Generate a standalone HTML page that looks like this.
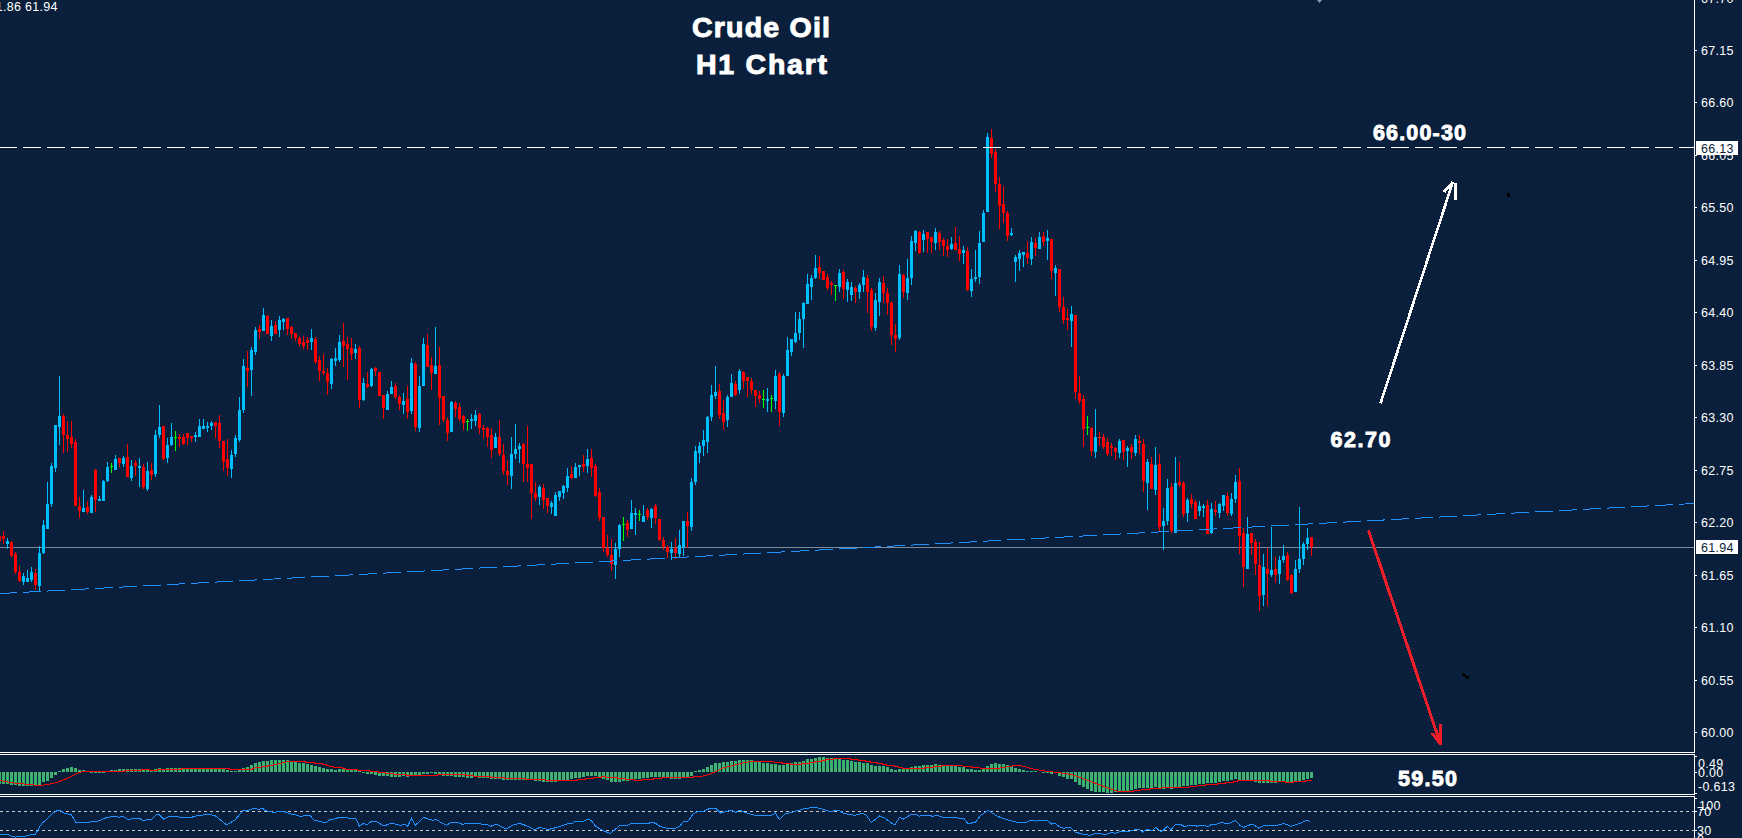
<!DOCTYPE html><html><head><meta charset="utf-8"><style>
html,body{margin:0;padding:0;background:#091f3b;width:1742px;height:838px;overflow:hidden}
svg{display:block;position:absolute;left:0;top:0}
.t{font-family:"Liberation Sans", sans-serif;}
.a{font-family:"Liberation Sans", sans-serif;font-size:12.5px;letter-spacing:0.3px}
</style></head><body>
<svg width="1742" height="838" viewBox="0 0 1742 838">
<rect width="1742" height="838" fill="#091f3b"/>
<g shape-rendering="crispEdges">

<rect x="0" y="547" width="1694" height="1" fill="#7c8b9c"/>
<path fill="#00bfff" d="M7 538h1v11h-1zM6 541h3v3h-3zM23 573h1v12h-1zM22 576h3v6h-3zM27 570h1v12h-1zM26 578h3v4h-3zM31 567h1v15h-1zM30 572h3v8h-3zM39 546h1v45h-1zM38 553h3v33h-3zM43 520h1v34h-1zM42 525h3v28h-3zM47 482h1v47h-1zM46 504h3v25h-3zM51 463h1v44h-1zM50 466h3v38h-3zM55 425h1v47h-1zM54 425h3v43h-3zM59 376h1v69h-1zM58 416h3v11h-3zM83 490h1v22h-1zM82 508h3v4h-3zM91 495h1v18h-1zM90 497h3v16h-3zM99 496h1v5h-1zM98 499h3v2h-3zM103 480h1v21h-1zM102 481h3v20h-3zM107 462h1v20h-1zM106 467h3v14h-3zM115 455h1v15h-1zM114 459h3v11h-3zM123 456h1v11h-1zM122 458h3v6h-3zM131 460h1v21h-1zM130 466h3v12h-3zM139 458h1v29h-1zM138 466h3v2h-3zM147 462h1v29h-1zM146 471h3v18h-3zM155 430h1v47h-1zM154 435h3v39h-3zM159 405h1v33h-1zM158 427h3v8h-3zM167 438h1v25h-1zM166 445h3v13h-3zM171 423h1v23h-1zM170 437h3v8h-3zM195 432h1v10h-1zM194 435h3v2h-3zM199 419h1v18h-1zM198 426h3v11h-3zM203 419h1v10h-1zM202 426h3v3h-3zM207 422h1v10h-1zM206 426h3v2h-3zM211 421h1v9h-1zM210 423h3v3h-3zM231 450h1v28h-1zM230 455h3v14h-3zM235 435h1v22h-1zM234 438h3v16h-3zM239 397h1v45h-1zM238 410h3v30h-3zM243 359h1v54h-1zM242 366h3v44h-3zM251 347h1v49h-1zM250 350h3v20h-3zM255 327h1v28h-1zM254 330h3v22h-3zM263 308h1v23h-1zM262 315h3v16h-3zM271 320h1v21h-1zM270 326h3v10h-3zM279 316h1v21h-1zM278 320h3v10h-3zM283 318h1v12h-1zM282 319h3v3h-3zM311 329h1v21h-1zM310 338h3v4h-3zM331 358h1v31h-1zM330 359h3v25h-3zM335 348h1v18h-1zM334 358h3v3h-3zM339 335h1v27h-1zM338 342h3v18h-3zM355 344h1v15h-1zM354 349h3v4h-3zM363 378h1v23h-1zM362 383h3v17h-3zM371 368h1v19h-1zM370 369h3v17h-3zM387 391h1v19h-1zM386 394h3v16h-3zM391 381h1v13h-1zM390 387h3v7h-3zM403 393h1v21h-1zM402 401h3v4h-3zM411 358h1v56h-1zM410 363h3v48h-3zM419 376h1v56h-1zM418 386h3v42h-3zM423 338h1v48h-1zM422 344h3v42h-3zM435 327h1v47h-1zM434 366h3v8h-3zM451 401h1v31h-1zM450 402h3v30h-3zM471 414h1v15h-1zM470 419h3v2h-3zM475 410h1v16h-1zM474 415h3v6h-3zM495 433h1v15h-1zM494 437h3v11h-3zM511 437h1v52h-1zM510 454h3v22h-3zM515 424h1v35h-1zM514 449h3v5h-3zM519 443h1v20h-1zM518 446h3v3h-3zM539 485h1v20h-1zM538 487h3v10h-3zM551 501h1v13h-1zM550 503h3v4h-3zM555 492h1v24h-1zM554 495h3v21h-3zM559 491h1v10h-1zM558 491h3v6h-3zM563 485h1v14h-1zM562 486h3v7h-3zM567 468h1v24h-1zM566 476h3v12h-3zM575 463h1v15h-1zM574 467h3v11h-3zM579 465h1v11h-1zM578 465h3v2h-3zM587 449h1v24h-1zM586 459h3v7h-3zM615 543h1v36h-1zM614 549h3v16h-3zM619 524h1v33h-1zM618 525h3v24h-3zM631 500h1v29h-1zM630 513h3v16h-3zM635 508h1v27h-1zM634 513h3v2h-3zM643 505h1v17h-1zM642 516h3v6h-3zM651 508h1v20h-1zM650 509h3v9h-3zM671 542h1v18h-1zM670 549h3v4h-3zM679 530h1v27h-1zM678 545h3v9h-3zM683 521h1v35h-1zM682 521h3v26h-3zM691 478h1v53h-1zM690 482h3v45h-3zM695 446h1v39h-1zM694 451h3v31h-3zM699 442h1v21h-1zM698 446h3v7h-3zM703 430h1v26h-1zM702 440h3v6h-3zM707 416h1v37h-1zM706 417h3v25h-3zM711 385h1v36h-1zM710 395h3v22h-3zM715 366h1v33h-1zM714 392h3v4h-3zM727 395h1v32h-1zM726 397h3v23h-3zM731 374h1v23h-1zM730 383h3v14h-3zM739 369h1v25h-1zM738 371h3v19h-3zM767 388h1v24h-1zM766 399h3v2h-3zM775 370h1v39h-1zM774 376h3v25h-3zM783 374h1v43h-1zM782 376h3v37h-3zM787 337h1v39h-1zM786 350h3v26h-3zM791 339h1v17h-1zM790 339h3v13h-3zM795 312h1v31h-1zM794 333h3v9h-3zM799 312h1v28h-1zM798 319h3v14h-3zM803 302h1v46h-1zM802 303h3v16h-3zM807 274h1v30h-1zM806 284h3v20h-3zM811 275h1v25h-1zM810 278h3v9h-3zM815 255h1v24h-1zM814 268h3v10h-3zM839 269h1v23h-1zM838 273h3v14h-3zM847 279h1v23h-1zM846 282h3v8h-3zM851 282h1v19h-1zM850 287h3v8h-3zM859 283h1v16h-1zM858 285h3v7h-3zM863 270h1v22h-1zM862 277h3v8h-3zM875 293h1v38h-1zM874 300h3v28h-3zM879 278h1v38h-1zM878 282h3v20h-3zM899 265h1v75h-1zM898 274h3v64h-3zM907 259h1v41h-1zM906 278h3v15h-3zM911 236h1v49h-1zM910 241h3v37h-3zM915 230h1v21h-1zM914 231h3v12h-3zM923 230h1v22h-1zM922 234h3v6h-3zM935 228h1v22h-1zM934 232h3v11h-3zM951 237h1v13h-1zM950 244h3v5h-3zM963 246h1v18h-1zM962 250h3v3h-3zM971 269h1v28h-1zM970 279h3v12h-3zM975 250h1v32h-1zM974 277h3v2h-3zM979 231h1v53h-1zM978 243h3v34h-3zM983 210h1v32h-1zM982 213h3v29h-3zM987 133h1v79h-1zM986 137h3v75h-3zM1011 228h1v8h-1zM1010 233h3v2h-3zM1015 255h1v27h-1zM1014 257h3v5h-3zM1019 250h1v21h-1zM1018 253h3v6h-3zM1023 252h1v15h-1zM1022 252h3v3h-3zM1031 237h1v28h-1zM1030 242h3v17h-3zM1039 232h1v17h-1zM1038 237h3v12h-3zM1047 230h1v30h-1zM1046 238h3v3h-3zM1055 265h1v31h-1zM1054 268h3v5h-3zM1071 306h1v41h-1zM1070 314h3v7h-3zM1095 409h1v49h-1zM1094 437h3v15h-3zM1119 439h1v19h-1zM1118 441h3v12h-3zM1127 446h1v21h-1zM1126 448h3v3h-3zM1135 435h1v21h-1zM1134 439h3v14h-3zM1147 459h1v51h-1zM1146 462h3v21h-3zM1155 447h1v48h-1zM1154 465h3v25h-3zM1163 508h1v42h-1zM1162 521h3v5h-3zM1167 479h1v46h-1zM1166 488h3v33h-3zM1175 457h1v76h-1zM1174 483h3v50h-3zM1187 498h1v24h-1zM1186 500h3v13h-3zM1199 501h1v15h-1zM1198 506h3v5h-3zM1203 504h1v13h-1zM1202 506h3v2h-3zM1211 503h1v31h-1zM1210 509h3v24h-3zM1219 503h1v15h-1zM1218 504h3v9h-3zM1223 495h1v16h-1zM1222 495h3v11h-3zM1231 493h1v23h-1zM1230 499h3v15h-3zM1235 475h1v28h-1zM1234 482h3v17h-3zM1247 517h1v52h-1zM1246 534h3v35h-3zM1263 554h1v52h-1zM1262 567h3v28h-3zM1271 527h1v50h-1zM1270 570h3v5h-3zM1279 556h1v28h-1zM1278 560h3v14h-3zM1283 545h1v18h-1zM1282 556h3v4h-3zM1295 560h1v32h-1zM1294 569h3v23h-3zM1299 507h1v66h-1zM1298 559h3v10h-3zM1303 542h1v23h-1zM1302 544h3v15h-3zM1307 528h1v22h-1zM1306 538h3v6h-3z"/><path fill="#ff0000" d="M-1 531h1v13h-1zM-2 536h3v5h-3zM3 531h1v13h-1zM2 536h3v3h-3zM11 541h1v16h-1zM10 542h3v14h-3zM15 552h1v22h-1zM14 554h3v18h-3zM19 566h1v16h-1zM18 572h3v9h-3zM35 569h1v21h-1zM34 573h3v12h-3zM63 414h1v39h-1zM62 416h3v19h-3zM67 421h1v31h-1zM66 435h3v4h-3zM71 421h1v27h-1zM70 437h3v7h-3zM75 439h1v67h-1zM74 442h3v64h-3zM79 497h1v21h-1zM78 506h3v5h-3zM87 501h1v13h-1zM86 507h3v5h-3zM95 469h1v43h-1zM94 470h3v30h-3zM119 458h1v9h-1zM118 458h3v5h-3zM127 444h1v33h-1zM126 457h3v20h-3zM135 460h1v16h-1zM134 463h3v3h-3zM143 464h1v25h-1zM142 467h3v20h-3zM151 463h1v17h-1zM150 470h3v5h-3zM163 426h1v34h-1zM162 426h3v33h-3zM179 434h1v13h-1zM178 437h3v2h-3zM183 434h1v11h-1zM182 437h3v7h-3zM187 433h1v12h-1zM186 433h3v5h-3zM191 436h1v6h-1zM190 436h3v2h-3zM215 422h1v16h-1zM214 422h3v4h-3zM219 415h1v33h-1zM218 423h3v18h-3zM223 441h1v30h-1zM222 441h3v21h-3zM227 439h1v37h-1zM226 459h3v9h-3zM247 351h1v36h-1zM246 368h3v3h-3zM259 325h1v14h-1zM258 329h3v3h-3zM267 315h1v19h-1zM266 316h3v18h-3zM275 321h1v13h-1zM274 325h3v9h-3zM287 318h1v17h-1zM286 318h3v11h-3zM291 326h1v13h-1zM290 327h3v7h-3zM295 333h1v8h-1zM294 333h3v5h-3zM299 336h1v11h-1zM298 338h3v6h-3zM303 336h1v13h-1zM302 342h3v4h-3zM307 337h1v13h-1zM306 340h3v3h-3zM315 337h1v27h-1zM314 339h3v23h-3zM319 356h1v25h-1zM318 360h3v11h-3zM323 354h1v21h-1zM322 371h3v2h-3zM327 368h1v27h-1zM326 373h3v9h-3zM343 323h1v44h-1zM342 341h3v5h-3zM347 337h1v43h-1zM346 344h3v5h-3zM351 338h1v22h-1zM350 348h3v6h-3zM359 346h1v62h-1zM358 348h3v52h-3zM367 372h1v16h-1zM366 384h3v3h-3zM375 367h1v9h-1zM374 368h3v3h-3zM379 372h1v24h-1zM378 372h3v24h-3zM383 395h1v24h-1zM382 395h3v13h-3zM395 383h1v16h-1zM394 386h3v11h-3zM399 395h1v15h-1zM398 397h3v7h-3zM407 386h1v33h-1zM406 399h3v13h-3zM415 362h1v69h-1zM414 364h3v63h-3zM427 334h1v33h-1zM426 345h3v22h-3zM431 357h1v33h-1zM430 365h3v8h-3zM439 347h1v78h-1zM438 365h3v33h-3zM443 396h1v26h-1zM442 396h3v24h-3zM447 417h1v24h-1zM446 420h3v13h-3zM455 401h1v16h-1zM454 403h3v6h-3zM459 403h1v18h-1zM458 407h3v12h-3zM463 415h1v15h-1zM462 416h3v7h-3zM479 413h1v21h-1zM478 414h3v14h-3zM483 425h1v14h-1zM482 428h3v2h-3zM487 427h1v20h-1zM486 428h3v9h-3zM491 428h1v30h-1zM490 435h3v15h-3zM499 420h1v36h-1zM498 437h3v17h-3zM503 444h1v31h-1zM502 455h3v16h-3zM507 460h1v25h-1zM506 471h3v4h-3zM523 443h1v39h-1zM522 444h3v20h-3zM527 426h1v56h-1zM526 464h3v4h-3zM531 464h1v55h-1zM530 464h3v29h-3zM535 482h1v19h-1zM534 493h3v5h-3zM543 484h1v25h-1zM542 488h3v12h-3zM547 498h1v15h-1zM546 498h3v8h-3zM571 466h1v13h-1zM570 474h3v4h-3zM583 455h1v17h-1zM582 464h3v3h-3zM591 449h1v28h-1zM590 458h3v10h-3zM595 464h1v33h-1zM594 466h3v30h-3zM599 488h1v33h-1zM598 492h3v26h-3zM603 517h1v35h-1zM602 517h3v31h-3zM607 535h1v22h-1zM606 548h3v7h-3zM611 539h1v32h-1zM610 555h3v9h-3zM627 520h1v17h-1zM626 523h3v7h-3zM647 508h1v12h-1zM646 510h3v7h-3zM655 504h1v20h-1zM654 506h3v12h-3zM659 519h1v22h-1zM658 519h3v21h-3zM663 537h1v13h-1zM662 540h3v7h-3zM667 545h1v13h-1zM666 547h3v5h-3zM675 538h1v21h-1zM674 548h3v5h-3zM687 512h1v36h-1zM686 521h3v5h-3zM719 384h1v35h-1zM718 391h3v24h-3zM723 400h1v30h-1zM722 413h3v9h-3zM735 381h1v15h-1zM734 384h3v11h-3zM743 371h1v18h-1zM742 372h3v9h-3zM747 377h1v20h-1zM746 377h3v4h-3zM751 378h1v16h-1zM750 381h3v9h-3zM755 390h1v17h-1zM754 390h3v6h-3zM759 391h1v12h-1zM758 395h3v4h-3zM779 372h1v54h-1zM778 374h3v38h-3zM819 256h1v23h-1zM818 267h3v6h-3zM823 271h1v9h-1zM822 271h3v9h-3zM827 274h1v16h-1zM826 277h3v11h-3zM831 281h1v14h-1zM830 283h3v2h-3zM843 270h1v29h-1zM842 272h3v17h-3zM855 286h1v17h-1zM854 288h3v4h-3zM867 275h1v38h-1zM866 278h3v14h-3zM871 288h1v43h-1zM870 290h3v37h-3zM883 276h1v27h-1zM882 283h3v10h-3zM887 288h1v27h-1zM886 293h3v10h-3zM891 301h1v44h-1zM890 303h3v32h-3zM895 324h1v28h-1zM894 335h3v4h-3zM903 274h1v24h-1zM902 275h3v17h-3zM919 231h1v23h-1zM918 232h3v21h-3zM927 232h1v21h-1zM926 232h3v7h-3zM931 237h1v16h-1zM930 237h3v5h-3zM939 231h1v19h-1zM938 233h3v9h-3zM943 238h1v18h-1zM942 240h3v6h-3zM947 239h1v18h-1zM946 246h3v4h-3zM955 227h1v23h-1zM954 243h3v7h-3zM959 236h1v25h-1zM958 249h3v5h-3zM967 247h1v44h-1zM966 251h3v39h-3zM991 129h1v29h-1zM990 138h3v16h-3zM995 149h1v43h-1zM994 152h3v32h-3zM999 177h1v52h-1zM998 184h3v22h-3zM1003 186h1v37h-1zM1002 204h3v9h-3zM1007 211h1v30h-1zM1006 213h3v23h-3zM1027 241h1v23h-1zM1026 253h3v5h-3zM1035 238h1v18h-1zM1034 243h3v5h-3zM1043 232h1v14h-1zM1042 236h3v6h-3zM1051 239h1v40h-1zM1050 239h3v32h-3zM1059 269h1v43h-1zM1058 269h3v38h-3zM1063 297h1v27h-1zM1062 307h3v13h-3zM1067 309h1v21h-1zM1066 318h3v2h-3zM1075 315h1v84h-1zM1074 315h3v77h-3zM1079 376h1v28h-1zM1078 393h3v8h-3zM1083 395h1v52h-1zM1082 399h3v30h-3zM1091 427h1v29h-1zM1090 428h3v23h-3zM1099 432h1v14h-1zM1098 437h3v1h-3zM1103 434h1v15h-1zM1102 437h3v10h-3zM1107 438h1v18h-1zM1106 442h3v12h-3zM1111 443h1v13h-1zM1110 446h3v2h-3zM1115 447h1v13h-1zM1114 448h3v4h-3zM1123 440h1v20h-1zM1122 440h3v12h-3zM1131 444h1v15h-1zM1130 447h3v5h-3zM1139 435h1v19h-1zM1138 441h3v2h-3zM1143 439h1v53h-1zM1142 444h3v37h-3zM1151 457h1v32h-1zM1150 464h3v25h-3zM1159 454h1v77h-1zM1158 464h3v63h-3zM1171 483h1v50h-1zM1170 487h3v44h-3zM1179 462h1v25h-1zM1178 482h3v3h-3zM1183 481h1v36h-1zM1182 483h3v31h-3zM1191 494h1v14h-1zM1190 499h3v5h-3zM1195 500h1v19h-1zM1194 502h3v17h-3zM1207 500h1v34h-1zM1206 505h3v29h-3zM1215 501h1v15h-1zM1214 510h3v2h-3zM1227 492h1v24h-1zM1226 496h3v17h-3zM1239 468h1v86h-1zM1238 481h3v55h-3zM1243 528h1v59h-1zM1242 533h3v34h-3zM1251 533h1v22h-1zM1250 533h3v10h-3zM1255 539h1v36h-1zM1254 542h3v22h-3zM1259 542h1v69h-1zM1258 565h3v31h-3zM1267 548h1v58h-1zM1266 569h3v5h-3zM1275 557h1v26h-1zM1274 569h3v6h-3zM1287 552h1v29h-1zM1286 555h3v25h-3zM1291 574h1v20h-1zM1290 575h3v18h-3zM1311 537h1v19h-1zM1310 537h3v10h-3z"/><path fill="#00ff00" d="M111 463h1v10h-1zM110 466h3v1h-3zM175 431h1v20h-1zM174 437h3v1h-3zM467 419h1v12h-1zM466 421h3v1h-3zM623 517h1v24h-1zM622 524h3v1h-3zM639 510h1v11h-1zM638 514h3v1h-3zM763 390h1v18h-1zM762 399h3v1h-3zM771 395h1v17h-1zM770 398h3v1h-3zM835 285h1v16h-1zM834 285h3v1h-3zM1087 416h1v19h-1zM1086 427h3v1h-3z"/>
<line x1="-1" y1="593.6" x2="1694" y2="503.5" stroke="#1e90ff" stroke-width="1" stroke-dasharray="18.0255 6.0085" />
<line x1="-1" y1="147.5" x2="1694" y2="147.5" stroke="#ffffff" stroke-width="1" stroke-dasharray="18 6"/>
</g>
<g shape-rendering="crispEdges"><path fill="#3cb371" d="M-2 772h3v12h-3zM2 772h3v12h-3zM6 772h3v12h-3zM10 772h3v13h-3zM14 772h3v13h-3zM18 772h3v14h-3zM22 772h3v14h-3zM26 772h3v14h-3zM30 772h3v14h-3zM34 772h3v14h-3zM38 772h3v13h-3zM42 772h3v10h-3zM46 772h3v9h-3zM50 772h3v6h-3zM54 772h3v3h-3zM58 771h3v1h-3zM62 769h3v3h-3zM66 768h3v4h-3zM70 767h3v5h-3zM74 768h3v4h-3zM78 770h3v2h-3zM82 770h3v2h-3zM86 771h3v1h-3zM90 772h3v1h-3zM94 772h3v1h-3zM98 772h3v1h-3zM102 772h3v1h-3zM110 770h3v2h-3zM114 770h3v2h-3zM118 769h3v3h-3zM122 769h3v3h-3zM126 769h3v3h-3zM130 769h3v3h-3zM134 769h3v3h-3zM138 769h3v3h-3zM142 770h3v2h-3zM146 769h3v3h-3zM150 771h3v1h-3zM154 769h3v3h-3zM158 768h3v4h-3zM162 770h3v2h-3zM166 768h3v4h-3zM170 768h3v4h-3zM174 768h3v4h-3zM178 768h3v4h-3zM182 769h3v3h-3zM186 769h3v3h-3zM190 769h3v3h-3zM194 769h3v3h-3zM198 769h3v3h-3zM202 769h3v3h-3zM206 769h3v3h-3zM210 769h3v3h-3zM214 769h3v3h-3zM218 769h3v3h-3zM222 769h3v3h-3zM226 770h3v2h-3zM230 771h3v1h-3zM234 771h3v1h-3zM238 770h3v2h-3zM242 768h3v4h-3zM246 767h3v5h-3zM250 765h3v7h-3zM254 763h3v9h-3zM258 762h3v10h-3zM262 761h3v11h-3zM266 761h3v11h-3zM270 760h3v12h-3zM274 760h3v12h-3zM278 760h3v12h-3zM282 760h3v12h-3zM286 760h3v12h-3zM290 762h3v10h-3zM294 762h3v10h-3zM298 763h3v9h-3zM302 763h3v9h-3zM306 764h3v8h-3zM310 765h3v7h-3zM314 766h3v6h-3zM318 767h3v5h-3zM322 768h3v4h-3zM326 769h3v3h-3zM330 769h3v3h-3zM334 770h3v2h-3zM338 769h3v3h-3zM342 769h3v3h-3zM346 770h3v2h-3zM350 770h3v2h-3zM354 770h3v2h-3zM358 771h3v1h-3zM362 772h3v1h-3zM366 772h3v2h-3zM370 772h3v2h-3zM374 772h3v3h-3zM378 772h3v4h-3zM382 772h3v4h-3zM386 772h3v4h-3zM390 772h3v5h-3zM394 772h3v5h-3zM398 772h3v5h-3zM402 772h3v4h-3zM406 772h3v5h-3zM410 772h3v3h-3zM414 772h3v3h-3zM418 772h3v3h-3zM422 772h3v2h-3zM426 772h3v2h-3zM430 772h3v1h-3zM434 772h3v2h-3zM438 772h3v2h-3zM442 772h3v4h-3zM446 772h3v4h-3zM450 772h3v4h-3zM454 772h3v5h-3zM458 772h3v5h-3zM462 772h3v5h-3zM466 772h3v6h-3zM470 772h3v6h-3zM474 772h3v5h-3zM478 772h3v6h-3zM482 772h3v6h-3zM486 772h3v6h-3zM490 772h3v7h-3zM494 772h3v7h-3zM498 772h3v7h-3zM502 772h3v8h-3zM506 772h3v8h-3zM510 772h3v8h-3zM514 772h3v8h-3zM518 772h3v8h-3zM522 772h3v8h-3zM526 772h3v8h-3zM530 772h3v8h-3zM534 772h3v9h-3zM538 772h3v9h-3zM542 772h3v10h-3zM546 772h3v10h-3zM550 772h3v10h-3zM554 772h3v10h-3zM558 772h3v8h-3zM562 772h3v8h-3zM566 772h3v8h-3zM570 772h3v7h-3zM574 772h3v6h-3zM578 772h3v6h-3zM582 772h3v5h-3zM586 772h3v4h-3zM590 772h3v4h-3zM594 772h3v4h-3zM598 772h3v5h-3zM602 772h3v7h-3zM606 772h3v8h-3zM610 772h3v10h-3zM614 772h3v10h-3zM618 772h3v10h-3zM622 772h3v9h-3zM626 772h3v9h-3zM630 772h3v7h-3zM634 772h3v7h-3zM638 772h3v7h-3zM642 772h3v6h-3zM646 772h3v6h-3zM650 772h3v5h-3zM654 772h3v5h-3zM658 772h3v5h-3zM662 772h3v5h-3zM666 772h3v5h-3zM670 772h3v7h-3zM674 772h3v7h-3zM678 772h3v7h-3zM682 772h3v5h-3zM686 772h3v5h-3zM690 772h3v4h-3zM694 771h3v1h-3zM698 770h3v2h-3zM702 769h3v3h-3zM706 767h3v5h-3zM710 765h3v7h-3zM714 763h3v9h-3zM718 763h3v9h-3zM722 762h3v10h-3zM726 762h3v10h-3zM730 761h3v11h-3zM734 761h3v11h-3zM738 760h3v12h-3zM742 760h3v12h-3zM746 760h3v12h-3zM750 760h3v12h-3zM754 762h3v10h-3zM758 762h3v10h-3zM762 763h3v9h-3zM766 763h3v9h-3zM770 764h3v8h-3zM774 764h3v8h-3zM778 765h3v7h-3zM782 765h3v7h-3zM786 764h3v8h-3zM790 763h3v9h-3zM794 762h3v10h-3zM798 762h3v10h-3zM802 761h3v11h-3zM806 759h3v13h-3zM810 759h3v13h-3zM814 758h3v14h-3zM818 757h3v15h-3zM822 757h3v15h-3zM826 758h3v14h-3zM830 758h3v14h-3zM834 759h3v13h-3zM838 759h3v13h-3zM842 760h3v12h-3zM846 760h3v12h-3zM850 761h3v11h-3zM854 762h3v10h-3zM858 762h3v10h-3zM862 763h3v9h-3zM866 763h3v9h-3zM870 765h3v7h-3zM874 766h3v6h-3zM878 766h3v6h-3zM882 766h3v6h-3zM886 767h3v5h-3zM890 769h3v3h-3zM894 770h3v2h-3zM898 769h3v3h-3zM902 769h3v3h-3zM906 769h3v3h-3zM910 767h3v5h-3zM914 766h3v6h-3zM918 766h3v6h-3zM922 765h3v7h-3zM926 765h3v7h-3zM930 765h3v7h-3zM934 764h3v8h-3zM938 765h3v7h-3zM942 766h3v6h-3zM946 766h3v6h-3zM950 766h3v6h-3zM954 766h3v6h-3zM958 767h3v5h-3zM962 767h3v5h-3zM966 769h3v3h-3zM970 769h3v3h-3zM974 770h3v2h-3zM978 770h3v2h-3zM982 768h3v4h-3zM986 766h3v6h-3zM990 764h3v8h-3zM994 763h3v9h-3zM998 764h3v8h-3zM1002 764h3v8h-3zM1006 765h3v7h-3zM1010 766h3v6h-3zM1014 768h3v4h-3zM1018 769h3v3h-3zM1022 770h3v2h-3zM1026 771h3v1h-3zM1030 771h3v1h-3zM1034 771h3v1h-3zM1042 772h3v1h-3zM1046 772h3v1h-3zM1050 772h3v2h-3zM1054 772h3v1h-3zM1058 772h3v4h-3zM1062 772h3v5h-3zM1066 772h3v7h-3zM1070 772h3v7h-3zM1074 772h3v10h-3zM1078 772h3v13h-3zM1082 772h3v15h-3zM1086 772h3v17h-3zM1090 772h3v19h-3zM1094 772h3v20h-3zM1098 772h3v20h-3zM1102 772h3v20h-3zM1106 772h3v21h-3zM1110 772h3v21h-3zM1114 772h3v20h-3zM1118 772h3v19h-3zM1122 772h3v19h-3zM1126 772h3v19h-3zM1130 772h3v18h-3zM1134 772h3v17h-3zM1138 772h3v16h-3zM1142 772h3v16h-3zM1146 772h3v16h-3zM1150 772h3v16h-3zM1154 772h3v15h-3zM1158 772h3v16h-3zM1162 772h3v17h-3zM1166 772h3v15h-3zM1170 772h3v17h-3zM1174 772h3v15h-3zM1178 772h3v15h-3zM1182 772h3v14h-3zM1186 772h3v14h-3zM1190 772h3v13h-3zM1194 772h3v13h-3zM1198 772h3v12h-3zM1202 772h3v12h-3zM1206 772h3v11h-3zM1210 772h3v11h-3zM1214 772h3v11h-3zM1218 772h3v10h-3zM1222 772h3v9h-3zM1226 772h3v9h-3zM1230 772h3v8h-3zM1234 772h3v7h-3zM1238 772h3v8h-3zM1242 772h3v8h-3zM1246 772h3v8h-3zM1250 772h3v8h-3zM1254 772h3v10h-3zM1258 772h3v11h-3zM1262 772h3v11h-3zM1266 772h3v11h-3zM1270 772h3v11h-3zM1274 772h3v11h-3zM1278 772h3v9h-3zM1282 772h3v9h-3zM1286 772h3v11h-3zM1290 772h3v10h-3zM1294 772h3v9h-3zM1298 772h3v9h-3zM1302 772h3v8h-3zM1306 772h3v7h-3zM1310 772h3v6h-3z"/></g>
<polyline points="0,780.0 3,781.0 8,782.0 13,782.8 22,783.8 32,784.8 40,785.8 45,784.8 51,783.8 56,782.8 66,778.8 75,774.5 80,772.1 86,771.1 105,771.1 108,771.5 124.5,771.5 125,770.5 141,770.5 141.5,769.5 149,769.5 149.5,770.5 157,770.5 157.5,769.5 181,769.5 181.5,768.5 229.5,768.5 230,769.5 252.5,769.5 253,768.5 257,767.5 265,766.5 270,765.5 275.5,764.5 280,763.5 284,762.5 288,761.5 305.5,761.5 306,762.5 314,762.5 314.5,763.5 322.5,763.5 323,764.5 326,764.5 326.5,765.5 330,766.3 333.5,766.5 334,767.5 342,767.5 342.5,768.5 345.5,768.5 346,769.5 357.5,769.5 358,770.5 369.5,770.5 370,771.5 378,771.5 378.5,772.5 385.5,772.5 386,773.5 393.5,773.5 394,774.5 406,774.5 406.5,775.5 437,775.5 437.5,774.5 466,774.5 466.5,775.5 473.5,775.5 474,776.5 490,776.5 490.5,777.5 504.5,777.5 505,778.5 525,778.5 525.5,779.5 540,779.7 546,779.7 546.5,780.5 577,780.5 577.5,779.5 585,779.5 585.5,778.5 593,778.5 593.5,777.5 601.5,777.5 602,776.5 605.5,776.5 606,777.5 617.5,777.5 618,778.5 625.5,778.5 626,779.5 634,779.5 634.5,780.5 641,780.5 641.5,779.5 653,779.5 653.5,778.5 661.5,778.5 662,777.5 693,777.5 693.5,776.5 701,776.5 705,775.5 708.8,774.5 712.4,773.0 718.4,770.4 722,768.2 728,766.7 734,765.3 740,763.7 745,762.5 750,761.7 774,761.7 774.5,762.5 782,762.5 782.5,763.5 790,763.5 790.5,764.5 801.5,764.5 802,763.5 809.5,763.5 810,762.5 814,762.5 814.5,761.5 821,761.5 821.5,760.5 825,760.5 825.5,759.5 833,759.5 833.5,758.5 850,758.5 850.5,759.5 858,759.5 858.5,760.5 865.5,760.5 866,761.5 870,761.5 870.5,762.5 877.5,762.5 878,763.5 882,763.5 882.5,764.5 886,764.5 886.5,765.5 894,765.5 894.5,766.5 898,766.5 898.5,767.5 902.5,767.5 903,768.5 924.5,768.5 925,767.5 933,767.5 933.5,766.5 941,766.5 941.5,765.5 960,765.7 982,768.2 990,768.8 1001,767.9 1015,765.5 1022,766.0 1032,768.8 1047,771.3 1060,772.8 1066,773.7 1072,774.7 1080,777.3 1090,781.3 1100,785.1 1110,788.8 1118,791.3 1133.5,791.7 1134,790.7 1140.5,790.7 1141,789.7 1149,789.7 1149.5,788.7 1160.5,788.7 1161,787.7 1188.5,787.7 1189,786.7 1196.5,786.7 1197,785.7 1205,785.7 1205.5,784.7 1217,784.7 1217.5,783.7 1225,783.7 1225.5,782.7 1233,782.7 1233.5,781.7 1237,781.7 1237.5,780.7 1269.5,780.7 1270,781.7 1285.5,781.7 1286,782.7 1293,782.7 1293.5,781.7 1305,781.7 1305.5,780.7 1311.5,780.7" fill="none" stroke="#ff0000" stroke-width="1" shape-rendering="crispEdges"/>
<g shape-rendering="crispEdges"><line x1="0" y1="811.5" x2="1694" y2="811.5" stroke="#c8c8c8" stroke-dasharray="3 3"/><line x1="0" y1="830.5" x2="1694" y2="830.5" stroke="#c8c8c8" stroke-dasharray="3 3"/></g>
<polyline points="0.0,834.4 7.6,834.4 11.4,836.2 15.2,837.1 24.6,836.3 32.2,834.4 35.0,834.8 37.9,830.0 41.7,823.5 46.4,819.7 53.0,813.0 57.8,810.2 60.6,810.8 65.3,813.6 71.0,814.4 75.8,822.1 89.0,822.1 98.5,821.0 106.0,817.8 113.6,816.3 119.3,817.2 123.1,816.3 127.8,819.3 139.2,818.3 143.9,821.0 146.8,819.7 151.5,819.7 156.3,814.4 159.1,814.4 163.8,819.3 169.5,816.3 177.0,816.3 180.0,817.4 191.3,817.4 197.9,815.3 210.2,814.6 215.0,815.5 225.4,824.0 227.3,824.4 234.8,820.2 243.4,810.2 246.2,810.8 254.7,808.3 258.5,809.3 262.3,808.3 267.0,811.2 274.6,812.5 278.4,811.2 284.1,811.5 291.7,814.4 296.4,815.0 300.2,816.3 309.7,815.3 314.4,820.2 325.8,822.9 330.0,819.7 333.8,819.1 339.5,817.4 345.2,817.4 349.9,818.3 355.6,818.3 359.4,826.3 363.1,823.5 366.9,824.8 371.7,821.2 375.5,821.2 384.0,825.9 390.6,823.5 395.3,824.0 400.1,825.4 404.8,824.4 407.7,826.3 411.4,818.3 415.2,825.4 423.8,817.4 428.5,819.1 433.2,820.2 436.1,819.3 442.7,823.5 446.5,825.4 451.2,822.1 456.9,822.1 462.6,824.4 466.4,823.5 477.7,823.5 487.2,824.8 491.0,826.3 495.7,824.0 504.2,828.2 508.0,828.2 511.8,825.4 519.4,823.5 523.2,824.4 534.5,829.7 540.2,827.3 547.8,829.7 557.3,827.3 566.7,824.0 572.4,823.5 575.3,821.2 583.8,821.2 587.6,819.3 591.4,820.6 595.2,825.9 602.7,830.5 610.3,833.5 619.8,825.4 627.3,825.4 631.1,823.5 648.2,823.5 652.0,822.1 655.8,823.5 660.0,826.3 667.6,828.6 675.2,828.6 679.9,825.9 683.7,821.2 688.0,821.2 693.1,814.0 697.9,811.5 703.6,811.2 710.2,808.3 715.9,808.3 720.6,813.0 725.3,811.7 731.0,810.2 735.8,812.5 739.5,810.2 745.2,812.5 754.7,815.3 771.7,815.3 775.5,813.0 779.3,819.7 785.0,814.0 792.6,812.1 805.8,808.3 815.3,807.4 822.9,809.3 829.5,811.5 839.0,810.2 843.7,813.4 855.1,815.3 862.7,813.4 866.4,815.3 871.2,822.5 879.7,815.9 885.4,818.3 892.0,823.5 894.8,824.8 899.6,817.2 903.4,819.1 911.0,814.4 915.7,814.4 919.5,816.3 922.3,815.3 928.9,815.3 932.7,816.3 936.5,815.3 942.2,817.2 953.6,817.8 964.0,818.3 967.8,823.5 975.3,822.5 980.1,815.9 988.0,810.2 990.0,811.5 995.7,815.3 1001.4,817.8 1008.9,820.2 1016.5,822.1 1026.9,822.1 1030.7,820.2 1035.5,821.2 1038.3,820.2 1046.8,820.2 1051.6,824.0 1055.3,823.5 1060.1,827.3 1063.9,828.2 1070.5,827.3 1075.2,832.0 1082.8,834.3 1090.4,835.4 1095.1,833.5 1106.5,834.3 1111.2,832.4 1115.0,833.3 1120.7,831.4 1130.2,831.0 1135.8,829.7 1139.6,829.7 1142.5,832.0 1147.2,829.1 1151.9,831.0 1155.7,827.3 1160.5,831.6 1163.3,830.1 1167.1,826.3 1170.9,829.7 1175.6,824.4 1180.3,824.4 1184.1,826.3 1194.5,825.4 1197.4,826.3 1200.2,825.4 1205.0,825.4 1207.8,826.7 1211.6,824.4 1217.3,824.0 1222.0,822.5 1227.7,824.0 1235.3,820.2 1240.0,825.4 1243.8,827.3 1248.5,825.4 1252.3,824.0 1258.9,828.2 1263.7,825.4 1276.0,825.4 1283.6,823.5 1291.1,826.3 1299.7,823.5 1307.2,820.2 1310.0,821.6" fill="none" stroke="#1e90ff" stroke-width="1" shape-rendering="crispEdges"/>
<g shape-rendering="crispEdges" fill="#ffffff">
<rect x="0" y="752" width="1695" height="1"/>
<rect x="0" y="754" width="1695" height="1"/>
<rect x="0" y="794" width="1695" height="1"/>
<rect x="0" y="796" width="1695" height="1"/>
<rect x="1694" y="0" width="1" height="753"/>
<rect x="1694" y="754" width="1" height="41"/>
<rect x="1694" y="796" width="1" height="42"/>

<rect x="1695" y="-2" width="2" height="1"/>
<rect x="1695" y="50" width="2" height="1"/>
<rect x="1695" y="102" width="2" height="1"/>
<rect x="1695" y="155" width="2" height="1"/>
<rect x="1695" y="207" width="2" height="1"/>
<rect x="1695" y="260" width="2" height="1"/>
<rect x="1695" y="312" width="2" height="1"/>
<rect x="1695" y="365" width="2" height="1"/>
<rect x="1695" y="417" width="2" height="1"/>
<rect x="1695" y="470" width="2" height="1"/>
<rect x="1695" y="522" width="2" height="1"/>
<rect x="1695" y="575" width="2" height="1"/>
<rect x="1695" y="627" width="2" height="1"/>
<rect x="1695" y="680" width="2" height="1"/>
<rect x="1695" y="732" width="2" height="1"/>
<rect x="1695" y="756" width="2" height="1"/>
<rect x="1695" y="772" width="2" height="1"/>
<rect x="1695" y="793" width="2" height="1"/>
<rect x="1695" y="798" width="2" height="1"/>
<rect x="1695" y="811" width="2" height="1"/>
<rect x="1695" y="830" width="2" height="1"/>
</g>
<text class="a" x="1701" y="2.5" fill="#fff">67.70</text>
<text class="a" x="1701" y="54.5" fill="#fff">67.15</text>
<text class="a" x="1701" y="106.5" fill="#fff">66.60</text>
<text class="a" x="1701" y="159.5" fill="#fff">66.05</text>
<text class="a" x="1701" y="211.5" fill="#fff">65.50</text>
<text class="a" x="1701" y="264.5" fill="#fff">64.95</text>
<text class="a" x="1701" y="316.5" fill="#fff">64.40</text>
<text class="a" x="1701" y="369.5" fill="#fff">63.85</text>
<text class="a" x="1701" y="421.5" fill="#fff">63.30</text>
<text class="a" x="1701" y="474.5" fill="#fff">62.75</text>
<text class="a" x="1701" y="526.5" fill="#fff">62.20</text>
<text class="a" x="1701" y="579.5" fill="#fff">61.65</text>
<text class="a" x="1701" y="631.5" fill="#fff">61.10</text>
<text class="a" x="1701" y="684.5" fill="#fff">60.55</text>
<text class="a" x="1701" y="736.5" fill="#fff">60.00</text>
<g shape-rendering="crispEdges"><rect x="1696" y="141" width="42" height="14" fill="#fff"/><rect x="1696" y="540" width="42" height="14" fill="#fff"/></g>
<text class="a" x="1701" y="152.5" fill="#091f3b">66.13</text>
<text class="a" x="1701" y="551.5" fill="#091f3b">61.94</text>
<text class="a" x="1698" y="768" fill="#fff">0.49</text>
<text class="a" x="1698" y="777" fill="#fff">0.00</text>
<text class="a" x="1698" y="791" fill="#fff">-0.613</text>
<text class="a" x="1699" y="810" fill="#fff">100</text>
<text class="a" x="1697" y="816" fill="#fff">70</text>
<text class="a" x="1697" y="835" fill="#fff">30</text>
<text class="a" x="1697" y="844" fill="#fff">0</text>
<text class="a" x="-11.6" y="11" fill="#fff">61.86</text><text class="a" x="25" y="11" fill="#fff">61.94</text>
<text class="t" x="692" y="37" font-size="28.5" font-weight="bold" fill="#fff" stroke="#fff" stroke-width="1" textLength="138" lengthAdjust="spacing">Crude Oil</text>
<text class="t" x="696" y="73.5" font-size="28.5" font-weight="bold" fill="#fff" stroke="#fff" stroke-width="1" textLength="131" lengthAdjust="spacing">H1 Chart</text>
<text class="t" x="1373" y="139.5" font-size="21.5" font-weight="bold" fill="#fff" stroke="#fff" stroke-width="0.9" lengthAdjust="spacing" textLength="93">66.00-30</text>
<text class="t" x="1330.5" y="446.5" font-size="21.5" font-weight="bold" fill="#fff" stroke="#fff" stroke-width="0.9" lengthAdjust="spacing" textLength="60">62.70</text>
<text class="t" x="1398" y="785.5" font-size="21.5" font-weight="bold" fill="#fff" stroke="#fff" stroke-width="0.9" lengthAdjust="spacing" textLength="59">59.50</text>
<g fill="none" stroke-linecap="butt" shape-rendering="crispEdges">
<line x1="1380.5" y1="403.5" x2="1452.5" y2="183" stroke="#fff" stroke-width="2.6"/>
<line x1="1444" y1="192" x2="1453" y2="182" stroke="#fff" stroke-width="3"/>
<line x1="1455" y1="183" x2="1455.5" y2="200" stroke="#fff" stroke-width="3"/>
<line x1="1368.5" y1="530.5" x2="1440.5" y2="744" stroke="#f01e28" stroke-width="3"/>
<line x1="1432" y1="733" x2="1441" y2="745" stroke="#f01e28" stroke-width="3"/>
<line x1="1440" y1="724" x2="1440" y2="745" stroke="#f01e28" stroke-width="3"/>
</g>
<polygon points="1317,0 1322,0 1319.5,3" fill="#8a9bb0"/>
<rect x="1507" y="193" width="3" height="4" fill="#000"/>
<path shape-rendering="crispEdges" fill="#000" d="M1462 673h2v3h-2zM1464 674h2v3h-2zM1466 676h3v3h-3z"/>
</svg></body></html>
